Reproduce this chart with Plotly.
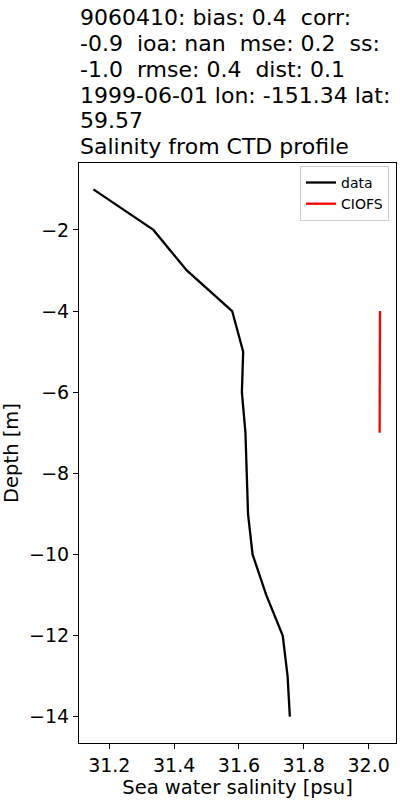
import plotly.graph_objects as go

# Data
data_depth = [-1, -2, -3, -4, -5, -6, -7, -8, -9, -10, -11, -12, -13, -14]
data_salinity = [31.151, 31.336, 31.439, 31.579, 31.613, 31.609, 31.620, 31.624,
                 31.628, 31.642, 31.684, 31.735, 31.750, 31.757]
model_depth = [-4, -5, -6, -7]
model_salinity = [32.035, 32.034, 32.034, 32.034]

title_lines = [
    "9060410: bias: 0.4  corr:",
    "-0.9  ioa: nan  mse: 0.2  ss:",
    "-1.0  rmse: 0.4  dist: 0.1",
    "1999-06-01 lon: -151.34 lat:",
    "59.57",
    "Salinity from CTD profile",
]
x_ticks = [31.2, 31.4, 31.6, 31.8, 32.0]
y_ticks = [-2, -4, -6, -8, -10, -12, -14]

FONT = "DejaVu Sans"
W, H = 400, 800
ML, MR, MT, MB = 79, 4, 163, 57
plot_h = H - MT - MB

fig = go.Figure()
fig.add_trace(go.Scatter(x=data_salinity, y=data_depth, mode="lines", name="data",
                         line=dict(color="black", width=2.3)))
fig.add_trace(go.Scatter(x=model_salinity, y=model_depth, mode="lines", name="CIOFS",
                         line=dict(color="red", width=2.3)))

centers = [17, 43, 69, 95, 121, 146]
annotations = []
for txt, c in zip(title_lines, centers):
    annotations.append(dict(
        text=txt.replace("  ", "\u00a0 "), xref="paper", yref="paper", x=0, xanchor="left",
        y=(H - MB - c) / plot_h, yanchor="middle", showarrow=False,
        font=dict(family=FONT, size=22, color="black"), xshift=-1,
    ))

axis_common = dict(
    showline=True, linecolor="black", linewidth=1, mirror=True,
    ticks="outside", ticklen=5, tickwidth=1, tickcolor="black",
    showgrid=False, zeroline=False,
    tickfont=dict(family=FONT, size=19, color="black"),
)

fig.update_layout(
    width=W, height=H,
    margin=dict(l=ML, r=MR, t=MT, b=MB),
    plot_bgcolor="white", paper_bgcolor="white",
    font=dict(family=FONT, color="black"),
    annotations=annotations,
    xaxis=dict(range=[31.1065, 32.0845], tickvals=x_ticks,
               ticktext=[f"{v:.1f}" for v in x_ticks],
               title=dict(text="Sea water salinity [psu]",
                          font=dict(family=FONT, size=19.5, color="black"), standoff=4),
               **axis_common),
    yaxis=dict(range=[-14.65, -0.35], tickvals=y_ticks,
               title=dict(text="Depth [m]",
                          font=dict(family=FONT, size=19.5, color="black"), standoff=6),
               **axis_common),
    legend=dict(x=0.978, xanchor="right", y=0.995, yanchor="top",
                bordercolor="#cccccc", borderwidth=1, bgcolor="white",
                font=dict(family=FONT, size=14, color="black"),
                tracegroupgap=0, itemwidth=30),
    showlegend=True,
)

fig.write_html("out.html", config={"displayModeBar": False},
               post_script="document.body.style.margin='0';document.body.style.overflow='hidden';")
